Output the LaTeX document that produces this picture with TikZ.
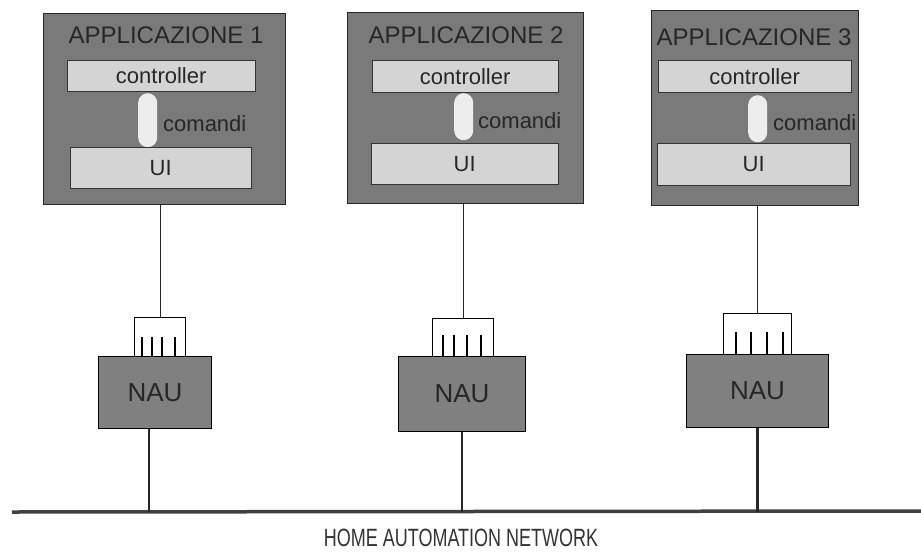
\documentclass[tikz,border=0pt]{standalone}
\usepackage{fontspec}
\setmainfont{Liberation Sans}
\usepackage{graphicx}
\usetikzlibrary{calc, positioning}

\begin{document}
\begin{tikzpicture}[x=1pt, y=-1pt,
    app/.style={draw=black!85, fill=black!52, inner sep=0pt, anchor=north west},
    part/.style={draw=black!80, fill=black!17, inner sep=0pt, anchor=north west,
        text=black!85, font=\fontsize{22}{24}\selectfont},
    pill/.style={draw=none, fill=black!7, rounded corners=9.5pt, inner sep=0pt,
        anchor=north west, minimum width=19pt},
    apptitle/.style={text=black!85, font=\fontsize{24}{26}\selectfont, inner sep=0pt},
    cmdlabel/.style={text=black!85, font=\fontsize{22}{24}\selectfont, inner sep=0pt, anchor=west},
    plug/.style={draw=black, fill=white, line width=1.2pt, inner sep=0pt, anchor=north west},
    nau/.style={draw=black, fill=black!50, line width=1pt, inner sep=0pt, anchor=north west,
        text=black!85, font=\fontsize{26}{28}\selectfont}]
    \useasboundingbox (0,0) rectangle (921,552);

    % Applicazione 1
    \node[app, minimum width=242pt, minimum height=191pt] (app1) at (43,13) {};
    \node[apptitle] (title1) at (166,35) {APPLICAZIONE 1};
    \node[part, minimum width=188pt, minimum height=31pt] (ctrl1) at (67,60) {controller};
    \node[pill, minimum height=54pt] (cmd1) at (138,93) {};
    \node[cmdlabel] (cmdtext1) at (163,124) {comandi};
    \node[part, minimum width=181pt, minimum height=41pt] (ui1) at (70,147) {UI};

    % Applicazione 2
    \node[app, minimum width=236pt, minimum height=191pt] (app2) at (347,12) {};
    \node[apptitle] (title2) at (466,35) {APPLICAZIONE 2};
    \node[part, minimum width=186pt, minimum height=32pt] (ctrl2) at (372,60) {controller};
    \node[pill, minimum height=47pt] (cmd2) at (454,93) {};
    \node[cmdlabel] (cmdtext2) at (478,121) {comandi};
    \node[part, minimum width=187pt, minimum height=41pt] (ui2) at (371,143) {UI};

    % Applicazione 3
    \node[app, minimum width=207pt, minimum height=195pt] (app3) at (651,10) {};
    \node[apptitle] (title3) at (754,37) {APPLICAZIONE 3};
    \node[part, minimum width=193pt, minimum height=32pt] (ctrl3) at (658,60) {controller};
    \node[pill, minimum height=47pt] (cmd3) at (748,95) {};
    \node[cmdlabel] (cmdtext3) at (773,123) {comandi};
    \node[part, minimum width=193pt, minimum height=42pt] (ui3) at (657,143) {UI};

    % Connettori e NAU
    \node[plug, minimum width=51pt, minimum height=39pt] (plug1) at (134,317) {};
    \node[plug, minimum width=61pt, minimum height=38pt] (plug2) at (432,318) {};
    \node[plug, minimum width=68pt, minimum height=41pt] (plug3) at (723,313) {};
    \node[nau, minimum width=113pt, minimum height=72pt] (nau1) at (98,356) {NAU};
    \node[nau, minimum width=127pt, minimum height=75pt] (nau2) at (398,356) {NAU};
    \node[nau, minimum width=142pt, minimum height=73pt] (nau3) at (686,354) {NAU};

    % Pin dei connettori
    \foreach \t in {142,152,162,175} {
        \draw[line width=1.2pt] (\t,337) -- (\t,356);
    }
    \foreach \t in {443,454,467,481} {
        \draw[line width=1.2pt] (\t,335) -- (\t,356);
    }
    \foreach \t in {736,751,767,783} {
        \draw[line width=1.2pt] (\t,332) -- (\t,354);
    }

    % Collegamenti applicazione - connettore
    \draw[line width=0.9pt, black!85] (plug1.north) -- (plug1.north |- app1.south);
    \draw[line width=0.9pt, black!85] (plug2.north) -- (plug2.north |- app2.south);
    \draw[line width=0.9pt, black!85] (plug3.north) -- (plug3.north |- app3.south);

    % Rete
    \coordinate (netL) at (12,512);
    \coordinate (netR) at (921,511);
    \draw[line width=3.5pt, black!75] (netL) -- (netR);
    \coordinate (drop1) at ($(nau1.south)+(-6,0)$);
    \draw[line width=2.6pt, black!85] (drop1) -- (drop1 |- netL);
    \foreach \n in {2,3} {
        \draw[line width=2.6pt, black!85] (nau\n.south) -- (nau\n.south |- netL);
    }
    \node[text=black!80, inner sep=0pt, font=\fontsize{25}{27}\selectfont] (netlabel) at (461,538)
        {\scalebox{0.72}[1]{HOME AUTOMATION NETWORK}};
\end{tikzpicture}
\end{document}
